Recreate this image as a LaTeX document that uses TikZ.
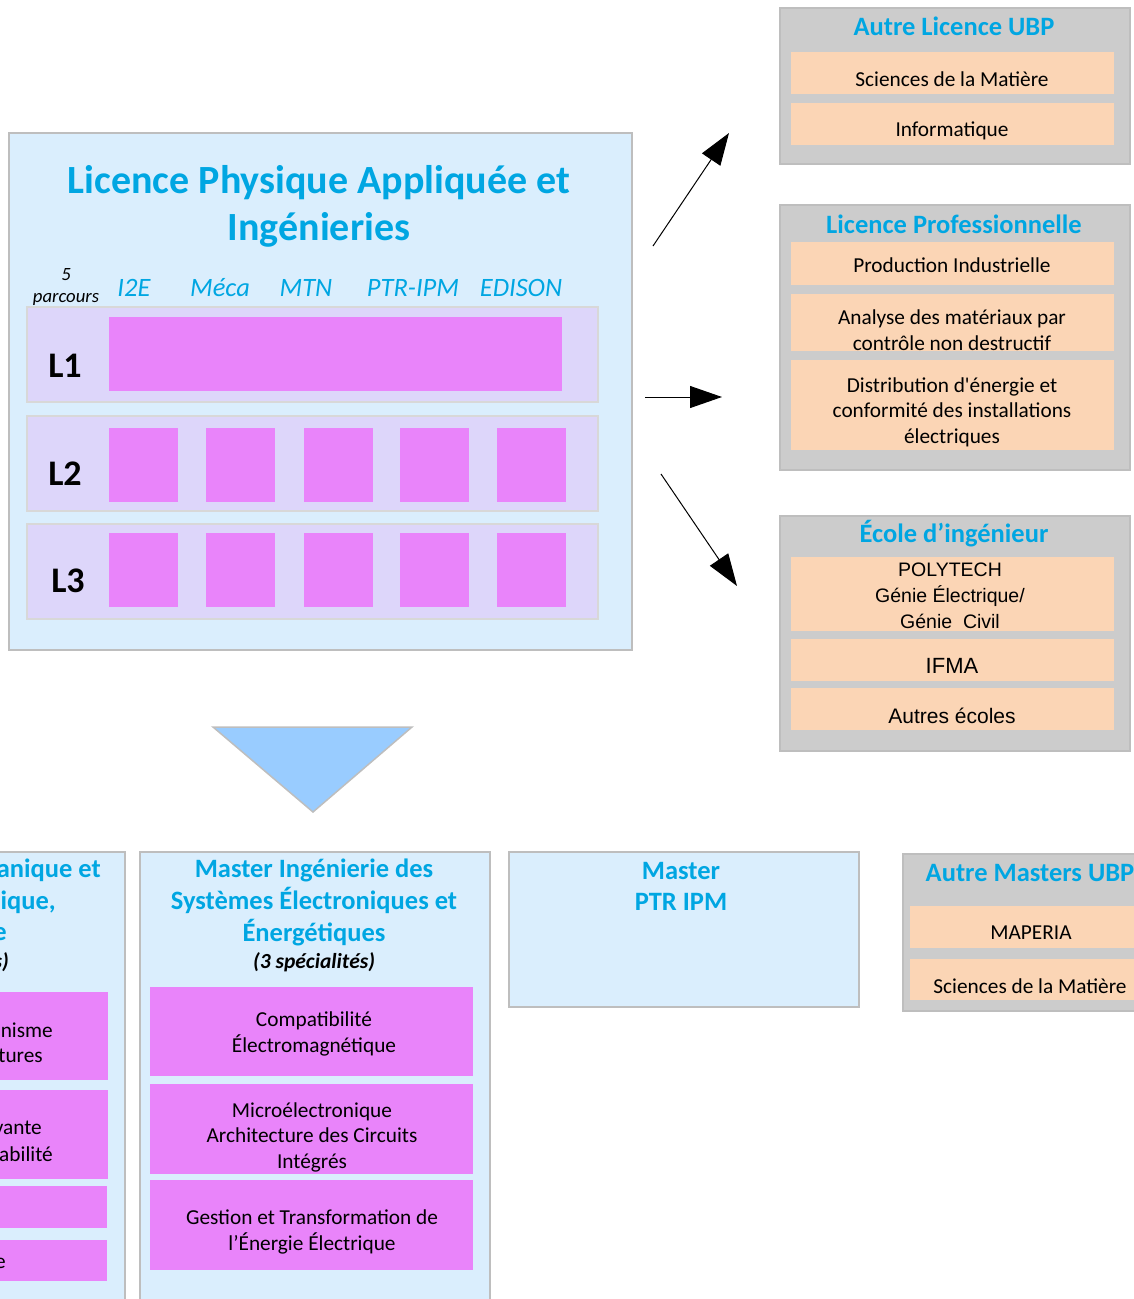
\documentclass[tikz,border=0pt]{standalone}
\usepackage{fontspec}
\setmainfont{Carlito}
\newfontfamily\arialfont{Liberation Sans}
\usepackage{tikz}
\usetikzlibrary{
	arrows.meta,
	positioning
}
\definecolor{BleuClair}{RGB}{218,238,253}
\definecolor{GrisBord}{RGB}{190,190,190}
\definecolor{Lavande}{RGB}{221,214,250}
\definecolor{Rose}{RGB}{233,132,250}
\definecolor{BleuTitre}{RGB}{0,166,226}
\definecolor{GrisBoite}{RGB}{204,204,204}
\definecolor{Peche}{RGB}{251,213,181}
\definecolor{BleuFleche}{RGB}{153,204,255}

\tikzset{
	cadre/.style={draw=GrisBord, line width=2pt, fill=BleuClair, anchor=north west, inner sep=0pt},
	boite/.style={draw=GrisBord, line width=2pt, fill=GrisBoite, anchor=north west, inner sep=0pt},
	bande/.style={draw=GrisBord!60, line width=2pt, fill=Lavande, anchor=north west, inner sep=0pt},
	case/.style={fill=Rose, anchor=north west, inner sep=0pt},
	peche/.style={fill=Peche, anchor=north west, inner sep=0pt},
	titre/.style={text=BleuTitre, align=center, inner sep=0pt, font=\fontsize{26.5}{32}\selectfont\bfseries},
	texte/.style={align=center, inner sep=0pt, font=\fontsize{21.3}{25.5}\selectfont},
	arial/.style={align=center, inner sep=0pt, font=\fontsize{19.5}{26}\selectfont\arialfont},
	parc/.style={text=BleuTitre, inner sep=0pt, font=\fontsize{26.5}{30}\selectfont\itshape},
	niveau/.style={inner sep=0pt, font=\fontsize{36}{40}\selectfont\bfseries},
	fleche/.style={-{Triangle[length=32pt,width=22pt]}, line width=1pt}
}

\begin{document}
\begin{tikzpicture}[x=1pt,y=-1pt]
			\useasboundingbox (0,0) rectangle (1134,1299);
			\clip (0,0) rectangle (1134,1299);
			
			% licence PAI
			\node[cadre, minimum width=623pt, minimum height=517pt] (licPAI) at (8,132) {};
			\node[titre, font=\fontsize{40}{47}\selectfont\bfseries] (tLicPAI) at (319,206) {Licence Physique Appliquée et\\Ingénieries};
			\node[texte, font=\fontsize{18.7}{22}\selectfont\itshape] (nbParc) at (66,287) {5\\parcours};
			\node[parc] (pI2E) at (134,288) {I2E};
			\node[parc] (pMeca) at (220,288) {Méca};
			\node[parc] (pMTN) at (306,288) {MTN};
			\node[parc] (pPTR) at (413,288) {PTR-IPM};
			\node[parc] (pEDI) at (521,288) {EDISON};
			
			\node[bande, minimum width=571pt, minimum height=95pt] (bL1) at (26,306) {};
			\node[bande, minimum width=571pt, minimum height=95pt] (bL2) at (26,415) {};
			\node[bande, minimum width=571pt, minimum height=95pt] (bL3) at (26,523) {};
			\node[niveau] (nL1) at (65,366) {L1};
			\node[niveau] (nL2) at (65,474) {L2};
			\node[niveau] (nL3) at (68,581) {L3};
			\node[case, minimum width=453pt, minimum height=74pt] (cL1) at (109,317) {};
			\foreach \x [count=\i] in {109,206,304,400,497} {
				\node[case, minimum width=69pt, minimum height=74pt] (cL2-\i) at (\x,428) {};
				\node[case, minimum width=69pt, minimum height=74pt] (cL3-\i) at (\x,533) {};
			}
			
			% fleches
			\coordinate (dep1) at (653,246);
			\coordinate (arr1) at (729,133);
			\coordinate (dep2) at (645,397);
			\coordinate (arr2) at (722,397);
			\coordinate (dep3) at (661,474);
			\coordinate (arr3) at (737,586);
			\draw[fleche] (dep1) -- (arr1);
			\draw[fleche] (dep2) -- (arr2);
			\draw[fleche] (dep3) -- (arr3);
			
			% autre licence
			\node[boite, minimum width=350pt, minimum height=156pt] (autreLic) at (779,7) {};
			\node[titre] (tAutreLic) at (954,26) {Autre Licence UBP};
			\node[peche, minimum width=323pt, minimum height=42pt] (pSM) at (791,52) {};
			\node[texte] (tSM) at (952,79) {Sciences de la Matière};
			\node[peche, minimum width=323pt, minimum height=42pt] (pInfo) at (791,103) {};
			\node[texte] (tInfo) at (952,131) {Informatique};
			
			% licence pro
			\node[boite, minimum width=350pt, minimum height=265pt] (licPro) at (779,204) {};
			\node[titre] (tLicPro) at (954,224) {Licence Professionnelle};
			\node[peche, minimum width=323pt, minimum height=43pt] (pProd) at (791,242) {};
			\node[texte] (tProd) at (952,265) {Production Industrielle};
			\node[peche, minimum width=323pt, minimum height=57pt] (pAna) at (791,294) {};
			\node[texte] (tAna) at (952,330) {Analyse des matériaux par\\contrôle non destructif};
			\node[peche, minimum width=323pt, minimum height=90pt] (pDist) at (791,360) {};
			\node[texte] (tDist) at (952,412) {Distribution d\textquotesingle énergie et\\conformité des installations\\électriques};
			
			% ecole
			\node[boite, minimum width=350pt, minimum height=235pt] (ecole) at (779,515) {};
			\node[titre] (tEcole) at (954,534) {École d’ingénieur};
			\node[peche, minimum width=323pt, minimum height=74pt] (pPoly) at (791,557) {};
			\node[arial] (tPoly) at (950,596) {POLYTECH\\Génie Électrique/\\Génie\ \ Civil};
			\node[peche, minimum width=323pt, minimum height=42pt] (pIFMA) at (791,639) {};
			\node[arial, font=\fontsize{22}{26}\selectfont\arialfont] (tIFMA) at (952,666) {IFMA};
			\node[peche, minimum width=323pt, minimum height=42pt] (pAutres) at (791,688) {};
			\node[arial, font=\fontsize{21}{26}\selectfont\arialfont] (tAutres) at (952,716) {Autres écoles};
			
			% triangle
			\coordinate (triA) at (213,727);
			\coordinate (triB) at (412,727);
			\coordinate (triC) at (313,812);
			\draw[GrisBord, line width=1.5pt, fill=BleuFleche] (triA) -- (triB) -- (triC) -- cycle;
			
			% master meca (coupe)
			\node[cadre, minimum width=200pt, minimum height=520pt] (mMeca) at (-76,851) {};
			\node[titre, anchor=east] (tMeca1) at (101,870) {anique et};
			\node[titre, anchor=east] (tMeca2) at (56,902) {ique,};
			\node[titre, anchor=east] (tMeca3) at (7,934) {e};
			\node[texte, anchor=east, font=\fontsize{21.5}{25}\selectfont\bfseries\itshape] (tMeca4) at (9,962) {s)};
			\node[case, minimum width=168pt, minimum height=88pt] (sMeca1) at (-60,992) {};
			\node[texte, anchor=east] (tsMeca1a) at (53,1030) {nisme};
			\node[texte, anchor=east] (tsMeca1b) at (43,1056) {tures};
			\node[case, minimum width=168pt, minimum height=89pt] (sMeca2) at (-60,1090) {};
			\node[texte, anchor=east] (tsMeca2a) at (42,1128) {vante};
			\node[texte, anchor=east] (tsMeca2b) at (53,1154) {abilité};
			\node[case, minimum width=167pt, minimum height=42pt] (sMeca3) at (-60,1186) {};
			\node[case, minimum width=167pt, minimum height=41pt] (sMeca4) at (-60,1240) {};
			\node[texte, anchor=east] (tsMeca4) at (6,1263) {e};
			
			% master ISEE
			\node[cadre, minimum width=350pt, minimum height=500pt] (mISEE) at (139,851) {};
			\node[titre] (tISEE) at (314,902) {Master Ingénierie des\\Systèmes Électroniques et\\Énergétiques};
			\node[texte, font=\fontsize{21.5}{25}\selectfont\bfseries\itshape] (nbSpec) at (314,962) {(3 spécialités)};
			\node[case, minimum width=323pt, minimum height=89pt] (sCEM) at (150,987) {};
			\node[texte] (tCEM) at (314,1034) {Compatibilité\\Électromagnétique};
			\node[case, minimum width=323pt, minimum height=90pt] (sMicro) at (150,1084) {};
			\node[texte] (tMicro) at (312,1137) {Microélectronique\\Architecture des Circuits\\Intégrés};
			\node[case, minimum width=323pt, minimum height=90pt] (sGTE) at (150,1180) {};
			\node[texte] (tGTE) at (312,1232) {Gestion et Transformation de\\l’Énergie Électrique};
			
			% master PTR IPM
			\node[cadre, minimum width=350pt, minimum height=155pt] (mPTR) at (508,851) {};
			\node[titre, font=\fontsize{26.5}{31}\selectfont\bfseries] (tPTR) at (681,886) {Master\\PTR IPM};
			
			% autres masters
			\node[boite, minimum width=256pt, minimum height=157pt] (autreMas) at (902,853) {};
			\node[titre] (tAutreMas) at (1030,873) {Autre Masters UBP};
			\node[peche, minimum width=240pt, minimum height=42pt] (pMap) at (910,906) {};
			\node[texte] (tMap) at (1031,933) {MAPERIA};
			\node[peche, minimum width=240pt, minimum height=41pt] (pSM2) at (910,959) {};
			\node[texte] (tSM2) at (1030,986) {Sciences de la Matière};
		\end{tikzpicture}
\end{document}
